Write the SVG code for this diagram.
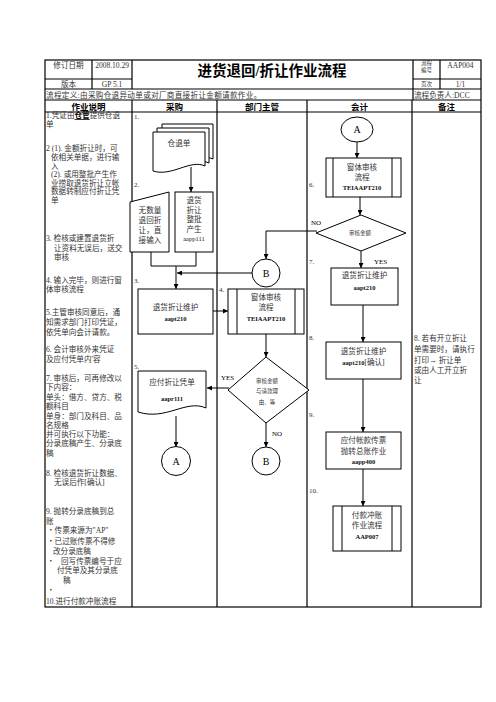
<svg xmlns="http://www.w3.org/2000/svg" width="496" height="702" viewBox="0 0 496 702">
<defs>
<marker id="ah" viewBox="0 0 10 10" refX="10" refY="5" markerWidth="5" markerHeight="5" orient="auto"><path d="M0,0 L10,5 L0,10 z" fill="#000"/></marker>
<style>
.t{font-family:"Liberation Serif","Noto Sans CJK SC",serif;font-size:7.6px;fill:#333}
.h{font-family:"Liberation Serif","Noto Sans CJK SC",serif;font-size:8.5px;font-weight:bold;fill:#000}
.c{text-anchor:middle}
.s{font-size:5.5px}
.code{font-size:6.5px;fill:#111;font-weight:bold}
.ln{stroke:#000;stroke-width:1.2;fill:none}
.nd{fill:#fff;stroke:#000;stroke-width:1}
.cn{stroke:#000;stroke-width:1;fill:none;marker-end:url(#ah)}
.cp{stroke:#000;stroke-width:1;fill:none}
</style>
</defs>
<rect width="496" height="702" fill="#fff"/>

<g id="table">
<rect x="45" y="60" width="436" height="547" class="ln"/>
<path class="ln" d="M45,79 H132 M413,79 H481 M45,89 H481 M45,100 H481 M45,112 H481 M92,60 V89 M132,60 V89 M413,60 V100 M440,60 V89 M132,100 V607 M217,100 V607 M307,100 V607 M412,100 V607"/>
<text class="t c" x="68.5" y="68" fill="#555">修订日期</text>
<text class="t c" x="112" y="68" style="font-size:7.5px">2008.10.29</text>
<text class="t c" x="68.5" y="87">版本</text>
<text class="t c" x="112" y="87" style="font-size:7.5px">GP 5.1</text>
<text class="h c" x="272" y="76" style="font-size:14.5px">进货退回/折让作业流程</text>
<text class="t c s" x="426.5" y="65">流程</text>
<text class="t c s" x="426.5" y="72">编号</text>
<text class="t c" x="460.5" y="68" style="font-size:7.5px">AAP004</text>
<text class="t c s" x="426.5" y="86">页次</text>
<text class="t c" x="460.5" y="87" style="font-size:7.5px">1/1</text>
<text class="t" x="46" y="98" style="letter-spacing:0.3px">流程定义:由采购仓退异动单或对厂商直接折让金额请款作业。</text>
<text class="t" x="414" y="98">流程负责人:DCC</text>
<text class="h c" x="88.5" y="109.5">作业说明</text>
<text class="h c" x="174.5" y="109.5">采购</text>
<text class="h c" x="262" y="109.5">部门主管</text>
<text class="h c" x="359.5" y="109.5">会计</text>
<text class="h c" x="446.5" y="109.5">备注</text>
</g>

<g id="description">
<text class="t" x="46" y="118">1.凭证由<tspan font-weight="bold" fill="#000" text-decoration="underline">仓管</tspan>提供仓退</text>
<text class="t" x="46" y="127">单</text>
<text class="t" x="46" y="151">2 (1). 金额折让时，可</text>
<text class="t" x="51" y="160">依相关单据，进行输</text>
<text class="t" x="51" y="168.5">入</text>
<text class="t" x="51" y="177">(2). 或用整批产生作</text>
<text class="t" x="51" y="185.5">业捞取退货折让立帐</text>
<text class="t" x="51" y="194">数据转制应付折让凭</text>
<text class="t" x="51" y="202.5">单</text>
<text class="t" x="46" y="241">3. 检核或建置退货折</text>
<text class="t" x="54" y="250.5">让资料无误后，送交</text>
<text class="t" x="54" y="260">审核</text>
<text class="t" x="46" y="283">4. 输入完毕，则进行窗</text>
<text class="t" x="46" y="292">体审核流程</text>
<text class="t" x="46" y="315">5.主管审核同意后，通</text>
<text class="t" x="46" y="325">知需求部门打印凭证，</text>
<text class="t" x="46" y="335">依凭单向会计请款。</text>
<text class="t" x="46" y="352">6. 会计审核外来凭证</text>
<text class="t" x="46" y="362">及应付凭单内'容</text>
<text class="t" x="46" y="381">7. 审核后，可再修改以</text>
<text class="t" x="46" y="390">下内容：</text>
<text class="t" x="46" y="400">单头：借方、贷方、税</text>
<text class="t" x="46" y="409">额科目</text>
<text class="t" x="46" y="419">单身：部门及科目、品</text>
<text class="t" x="46" y="428">名规格</text>
<text class="t" x="46" y="437">并可执行以下功能：</text>
<text class="t" x="46" y="446">分录底稿产生、分录底</text>
<text class="t" x="46" y="456">稿</text>
<text class="t" x="46" y="476">8. 检核退货折让数据、</text>
<text class="t" x="54" y="485">无误后作[确认]</text>
<text class="t" x="46" y="514">9. 抛转分录底稿到总</text>
<text class="t" x="46" y="524">账</text>
<text class="t" x="47" y="533">・传票来源为"AP"</text>
<text class="t" x="47" y="544">・已过账传票不得修</text>
<text class="t" x="53" y="554">改分录底稿</text>
<text class="t" x="47" y="564">・</text>
<text class="t" x="61" y="564">回写传票编号于应</text>
<text class="t" x="57" y="573">付凭单及其分录底</text>
<text class="t" x="63" y="583">稿</text>
<text class="t" x="47" y="593">・</text>
<text class="t" x="46" y="604">10.进行付款冲账流程</text>
</g>

<g id="step-labels">
<text class="t" x="134" y="119" style="font-size:7px">1.</text>
<text class="t" x="134" y="187" style="font-size:7px">2.</text>
<text class="t" x="134" y="283" style="font-size:7px">3.</text>
<text class="t" x="219" y="292" style="font-size:7px">4.</text>
<text class="t" x="134" y="369" style="font-size:7px">5.</text>
<text class="t" x="309" y="187" style="font-size:7px">6.</text>
<text class="t" x="309" y="264" style="font-size:7px">7.</text>
<text class="t" x="309" y="340" style="font-size:7px">8.</text>
<text class="t" x="309" y="417" style="font-size:7px">9.</text>
<text class="t" x="309" y="493" style="font-size:7px">10.</text>
</g>

<g id="connectors">
<path class="cn" d="M191,167 V192"/>
<path class="cp" d="M151,252 V266 H196 V252"/>
<path class="cn" d="M176,266 V289"/>
<path class="cn" d="M252,273 H177"/>
<path class="cn" d="M213,311 H228"/>
<path class="cn" d="M266,334 V357"/>
<path class="cn" d="M229,388 H207"/>
<path class="cn" d="M266,423 V447"/>
<path class="cn" d="M176,416 V447"/>
<path class="cn" d="M357,142 V158"/>
<path class="cn" d="M360,197 V215"/>
<path class="cn" d="M317,231 H266 V259"/>
<path class="cn" d="M361,251 V268"/>
<path class="cn" d="M363,305 V342"/>
<path class="cn" d="M363,379 V432"/>
<path class="cn" d="M363,469 V506"/>
<text class="t" x="221" y="380" style="font-size:7px;fill:#000">YES</text>
<text class="t" x="272" y="436" style="font-size:7px;fill:#000">NO</text>
<text class="t" x="311" y="225" style="font-size:7px;fill:#000">NO</text>
<text class="t" x="374" y="264" style="font-size:7px;fill:#000">YES</text>
</g>

<g id="n-cangtuidan">
<path class="nd" d="M162,124 H213 V159 C198,152 180,170 162,164 Z"/>
<path class="nd" d="M157,128 H209 V163 C194,156 176,174 157,168 Z"/>
<path class="nd" d="M153,132 H205 V166 C190,159 172,177 153,171 Z"/>
<text class="t c" x="179" y="146">仓退单</text>
</g>

<g id="n-manual">
<path class="nd" d="M130,202 L169,192 V252 H130 Z"/>
<text class="t c" x="150" y="213">无数量</text>
<text class="t c" x="150" y="223">退回折</text>
<text class="t c" x="150" y="233">让，直</text>
<text class="t c" x="150" y="243">接输入</text>
</g>

<g id="n-aapp111">
<rect class="nd" x="175" y="192" width="38" height="60"/>
<text class="t c" x="194" y="203">退货</text>
<text class="t c" x="194" y="212.5">折让</text>
<text class="t c" x="194" y="222">整批</text>
<text class="t c" x="194" y="231.5">产生</text>
<text class="t c code" x="194" y="241" style="font-weight:normal">aapp111</text>
</g>

<g id="n-aapt210-1">
<rect class="nd" x="138" y="289" width="75" height="45"/>
<text class="t c" x="175.5" y="310">退货折让维护</text>
<text class="t c code" x="175.5" y="321">aapt210</text>
</g>

<g id="n-teia-1">
<rect class="nd" x="228" y="289" width="76" height="45"/>
<path class="cp" d="M237,289 V334 M295,289 V334"/>
<text class="t c" x="266" y="300">窗体审核</text>
<text class="t c" x="266" y="310">流程</text>
<text class="t c code" x="266" y="321">TEIAAPT210</text>
</g>

<g id="n-diamond-1">
<path class="nd" d="M266,357 L309,390 L266,423 L228,390 Z"/>
<text class="t c s" x="267" y="383">审核金额</text>
<text class="t c s" x="267" y="393">与请款理</text>
<text class="t c s" x="267" y="404">由、等</text>
</g>

<g id="n-aapr111">
<path class="nd" d="M138,371 H206 V408 C186,399 166,421 138,412 Z"/>
<text class="t c" x="172" y="385">应付折让凭单</text>
<text class="t c code" x="172" y="401">aapr111</text>
</g>

<g id="n-A-1">
<circle class="nd" cx="176" cy="461" r="14.5"/>
<text class="t c" x="176" y="465" style="font-size:10px;fill:#000">A</text>
</g>

<g id="n-B-1">
<circle class="nd" cx="266" cy="273" r="14"/>
<text class="t c" x="266" y="277" style="font-size:10px;fill:#000">B</text>
</g>

<g id="n-B-2">
<circle class="nd" cx="266" cy="461" r="14"/>
<text class="t c" x="266" y="465" style="font-size:10px;fill:#000">B</text>
</g>

<g id="n-A-2">
<ellipse class="nd" cx="357" cy="129.5" rx="16" ry="12.5"/>
<text class="t c" x="357" y="133" style="font-size:10px;fill:#000">A</text>
</g>

<g id="n-teia-2">
<rect class="nd" x="326" y="158" width="75" height="39"/>
<path class="cp" d="M333,158 V197 M392,158 V197"/>
<text class="t c" x="362" y="170">窗体审核</text>
<text class="t c" x="362" y="180">流程</text>
<text class="t c code" x="362" y="190">TEIAAPT210</text>
</g>

<g id="n-diamond-2">
<path class="nd" d="M361,215 L406,233 L361,251 L316,233 Z"/>
<text class="t c s" x="360" y="235">审核金额</text>
</g>

<g id="n-aapt210-2">
<rect class="nd" x="331" y="268" width="67" height="37"/>
<text class="t c" x="364.5" y="278">退货折让维护</text>
<text class="t c code" x="364.5" y="290">aapt210</text>
</g>

<g id="n-aapt210-confirm">
<rect class="nd" x="326" y="342" width="75" height="37"/>
<text class="t c" x="363.5" y="354">退货折让维护</text>
<text class="t c" x="363.5" y="365"><tspan class="code">aapt210</tspan>[确认]</text>
</g>

<g id="n-aapp400">
<rect class="nd" x="326" y="432" width="75" height="37"/>
<text class="t c" x="363.5" y="443">应付帐款传票</text>
<text class="t c" x="363.5" y="454">抛转总账作业</text>
<text class="t c code" x="363.5" y="464">aapp400</text>
</g>

<g id="n-aap007">
<rect class="nd" x="333" y="506" width="68" height="45"/>
<path class="cp" d="M342,506 V551 M392,506 V551"/>
<text class="t c" x="367" y="518">付款冲账</text>
<text class="t c" x="367" y="528">作业流程</text>
<text class="t c code" x="367" y="539">AAP007</text>
</g>

<g id="remarks">
<text class="t" x="414" y="341">8. 若有开立折让</text>
<text class="t" x="414" y="352">单需要时，请执行</text>
<text class="t" x="414" y="363">打印→ 折让单</text>
<text class="t" x="414" y="373">或由人工开立折</text>
<text class="t" x="414" y="383">让</text>
</g>
</svg>
